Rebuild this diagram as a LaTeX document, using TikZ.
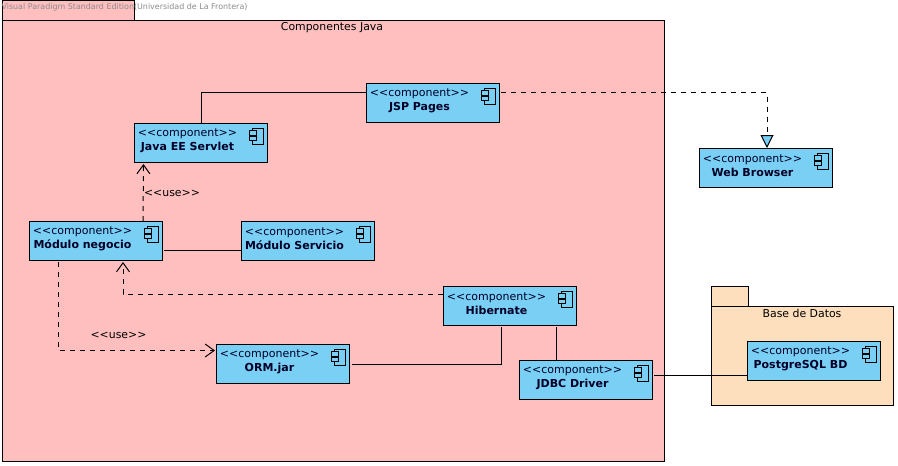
\documentclass[tikz,border=0pt]{standalone}
\usepackage{fontspec}
\setmainfont{DejaVu Sans}
\usetikzlibrary{arrows.meta,calc}
\definecolor{pinkpkg}{HTML}{FFBFBF}
\definecolor{orangepkg}{HTML}{FEDFBD}
\definecolor{compblue}{HTML}{7ACFF5}
\tikzset{
  pkg/.style={draw=black,line width=1pt},
  compbox/.style={draw=black,fill=compblue,line width=1pt,minimum width=133pt,minimum height=39pt,inner sep=0pt,outer sep=0pt},
  comptext/.style={font=\fontsize{11}{14}\selectfont,align=center,inner sep=0pt,text=black!85!blue},
  plain/.style={font=\fontsize{10.9}{14}\selectfont,inner sep=0pt},
  wire/.style={line width=1pt,black},
  dep/.style={line width=1pt,black,dash pattern=on 5pt off 5pt},
  usetip/.style={-{Straight Barb[length=9pt,width=13pt,line width=1pt]}},
  realtip/.style={-{Triangle[open,fill=compblue,length=13pt,width=13pt,line width=1pt]}},
}
\newcommand{\compnode}[4]{%
  \node[compbox] (#1) at (#2+66.5,#3+19.5) {};
  \node[comptext] (#1-t) at (#2+53.5,#3+18.2) {<{}<component>{}>\\\textbf{#4}};
  \begin{scope}[shift={(#1.north west)},line width=0.9pt]
    \draw (118,5) rectangle (129,21);
    \draw[fill=compblue] (115.5,7.5) rectangle (122,12);
    \draw[fill=compblue] (115.5,13) rectangle (122,17.5);
  \end{scope}
}
\begin{document}
\begin{tikzpicture}[x=1pt,y=-1pt]
\useasboundingbox[fill=white] (0,0) rectangle (898,466);
% packages
\draw[pkg,fill=pinkpkg] (2,0.5) rectangle (134,20.5);
\draw[pkg,fill=pinkpkg] (2.5,20.5) rectangle (664.5,461);
\draw[pkg,fill=orangepkg] (711.5,286.5) rectangle (748,306.5);
\draw[pkg,fill=orangepkg] (711.5,306.5) rectangle (893.5,405);
\node[plain] (wm) at (124.5,7) {\fontsize{7.95}{9}\selectfont\textcolor{black!45}{Visual Paradigm Standard Edition(Universidad de La Frontera)}};
\node[plain] (pkgA) at (332,27.5) {Componentes Java};
\node[plain] (pkgB) at (802,313.5) {Base de Datos};
% components
\compnode{jsp}{366}{83}{JSP Pages}
\compnode{java}{134}{123}{Java EE Servlet}
\compnode{web}{699}{148}{Web Browser}
\compnode{neg}{29}{221}{Módulo negocio}
\compnode{serv}{241}{221}{Módulo Servicio}
\compnode{hib}{443}{286}{Hibernate}
\compnode{orm}{216}{344}{ORM.jar}
\compnode{jdbc}{519}{360}{JDBC Driver}
\compnode{pg}{747}{341}{PostgreSQL BD}
% anchors on the box edges
\coordinate (javaT) at ($(java.north west)+(67,0)$);
\coordinate (jspL) at ($(jsp.north west)+(0,9.5)$);
\coordinate (jspR) at ($(jsp.north east)+(2,9.5)$);
\coordinate (webT) at ($(web.north west)+(68,0)$);
\coordinate (javaB) at ($(java.south west)+(9.5,2)$);
\coordinate (negT) at ($(neg.north west)+(114,0)$);
\coordinate (negR) at ($(neg.north east)+(2,29.5)$);
\coordinate (servL) at ($(serv.north west)+(0,29.5)$);
\coordinate (negB) at ($(neg.south west)+(94,2)$);
\coordinate (negBL) at ($(neg.south west)+(29,2)$);
\coordinate (hibL) at ($(hib.north west)+(0,8)$);
\coordinate (ormL) at ($(orm.north west)+(-1,6.5)$);
\coordinate (ormR) at ($(orm.north east)+(3,20.5)$);
\coordinate (hibB) at ($(hib.south west)+(58.5,2)$);
\coordinate (hibB2) at ($(hib.south west)+(113.5,2)$);
\coordinate (jdbcT) at ($(jdbc.north west)+(37.5,0)$);
\coordinate (jdbcR) at ($(jdbc.north east)+(2,15.5)$);
\coordinate (pgL) at ($(pg.north west)+(0,34.5)$);
% connectors
\draw[wire] (javaT) |- (jspL);
\draw[dep,realtip] (jspR) -| (webT);
\draw[dep,usetip] (negT) -- (javaB);
\draw[wire] (negR) -- (servL);
\draw[dep,usetip] (hibL) -| (negB);
\draw[dep,usetip] (negBL) |- (ormL);
\draw[wire] (ormR) -| (hibB);
\draw[wire] (hibB2) -- (jdbcT);
\draw[wire] (jdbcR) -- (pgL);
\node[plain] (use1) at (172,193.5) {<{}<use>{}>};
\node[plain] (use2) at (118.5,335.5) {<{}<use>{}>};
\end{tikzpicture}
\end{document}
